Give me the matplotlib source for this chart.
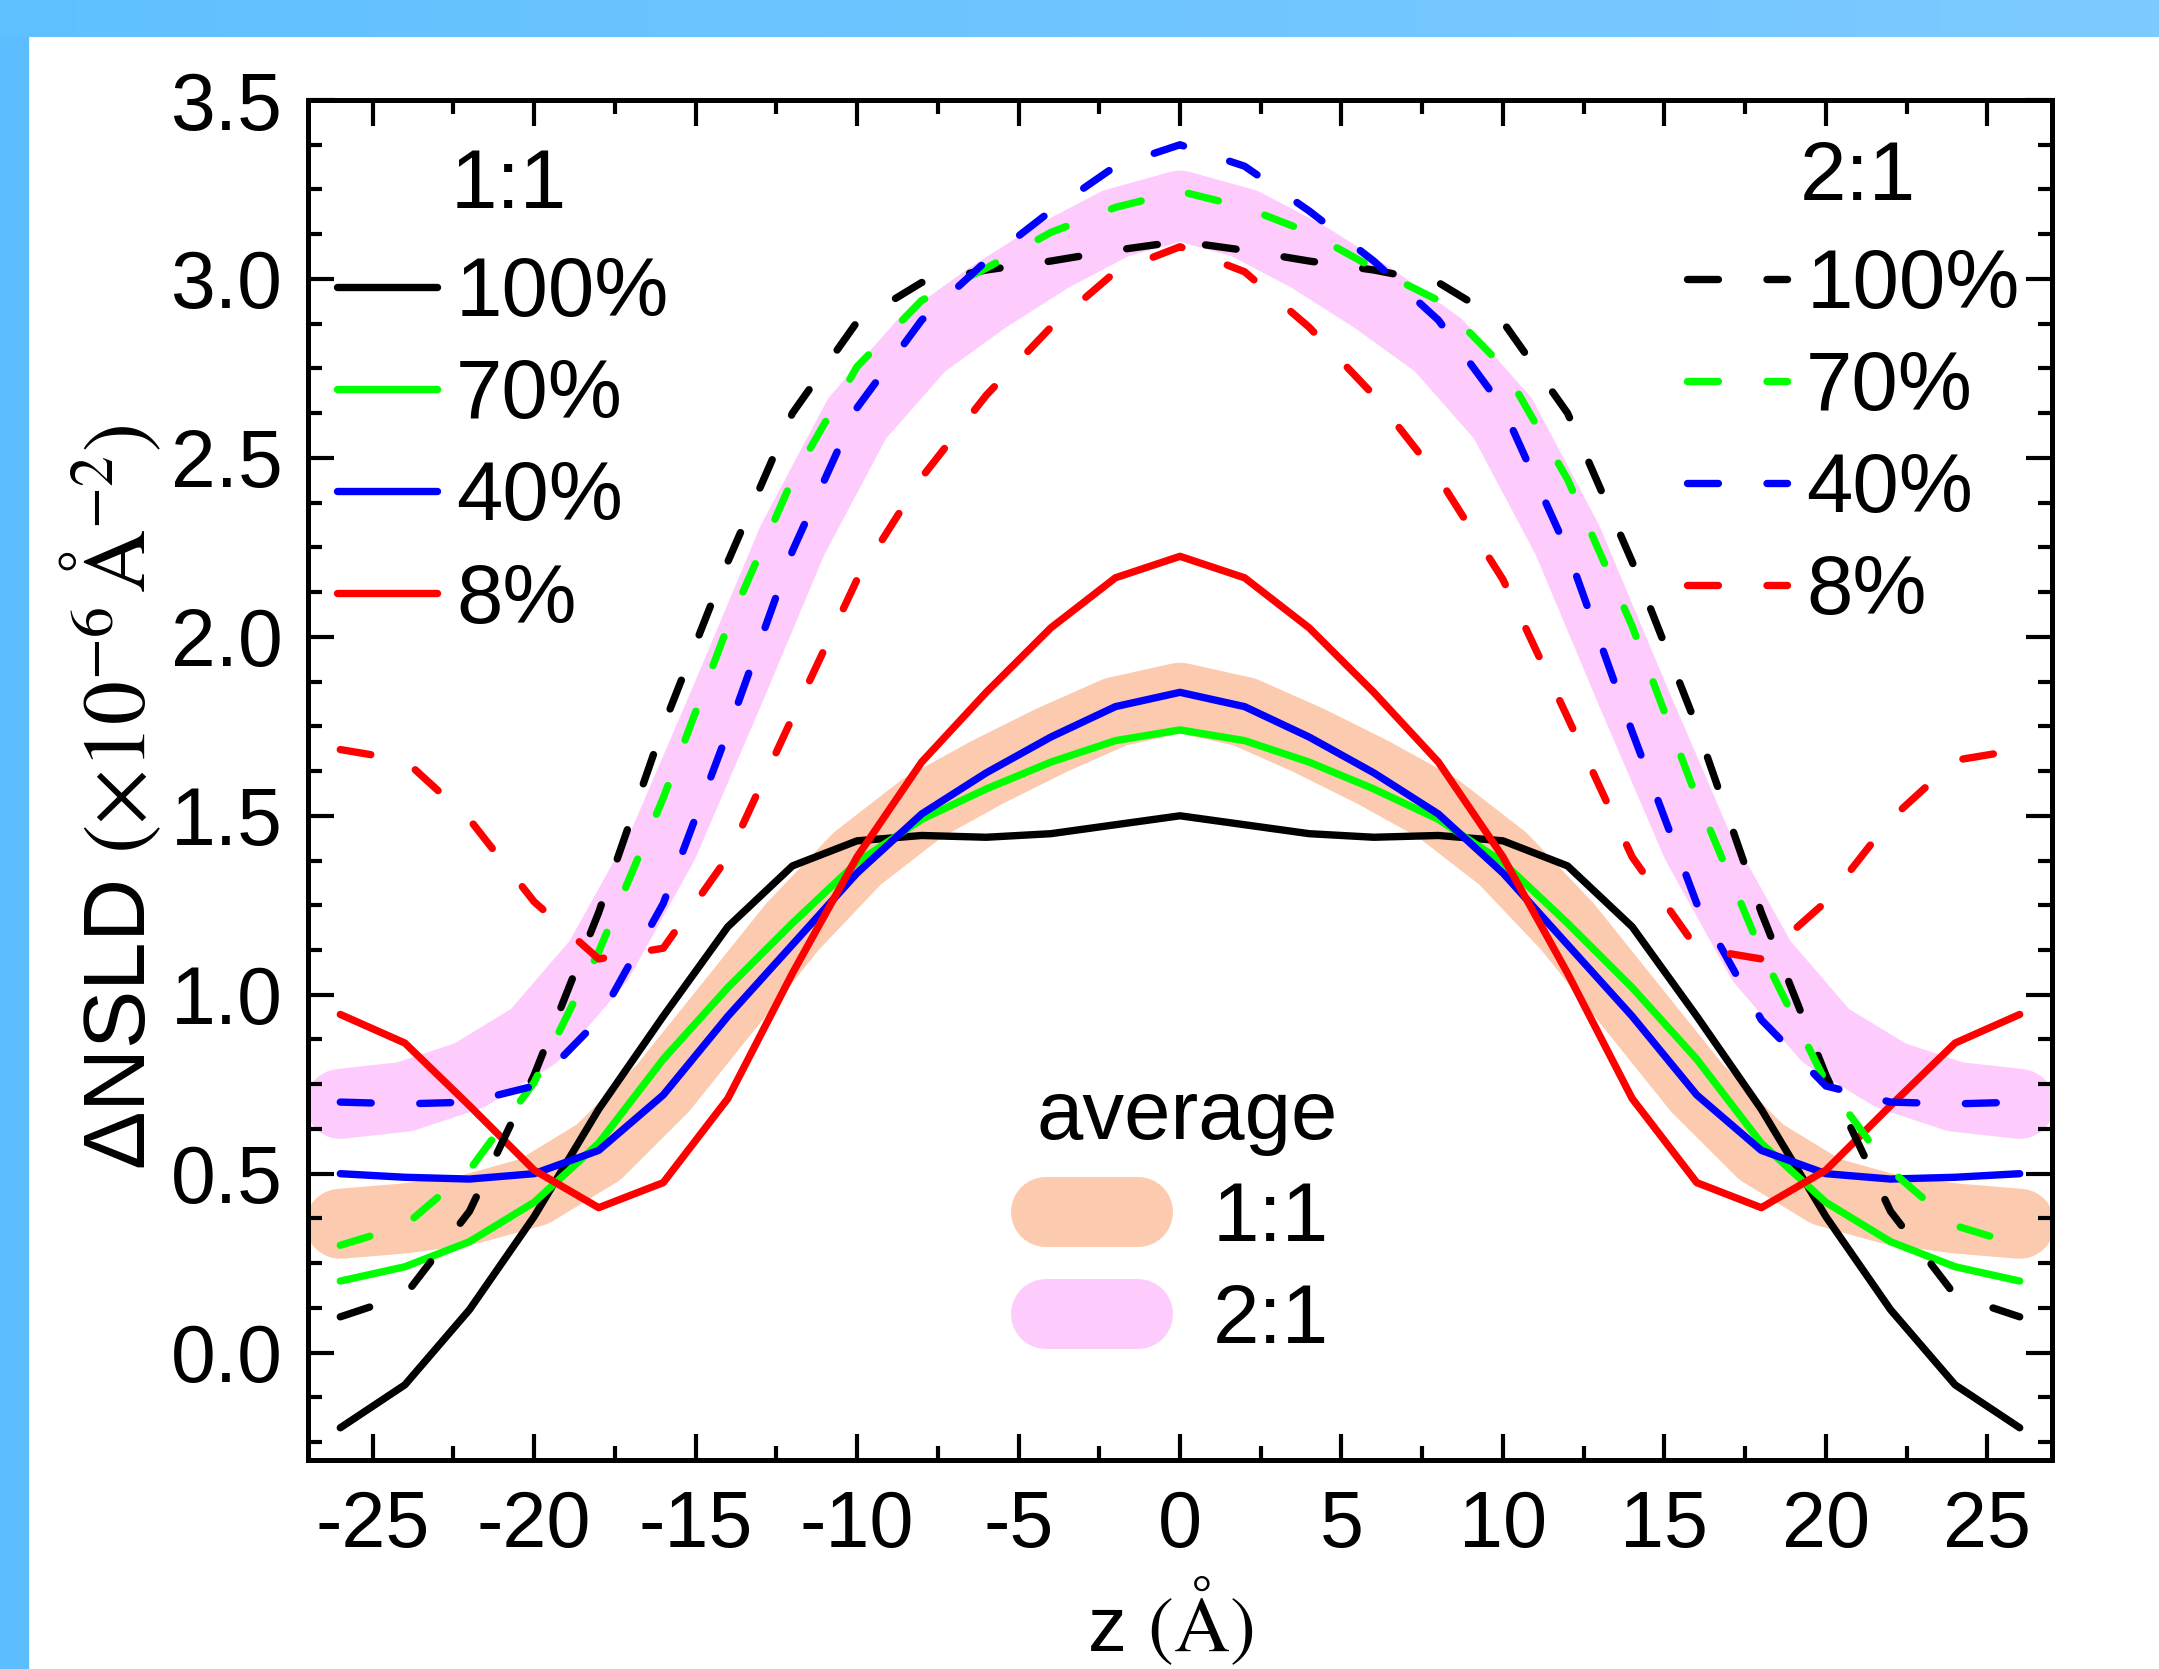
"""
NSLD difference profiles, 1:1 vs 2:1, with averages
"""

import matplotlib.pyplot as plt
import numpy as np
from matplotlib.patches import Rectangle
from matplotlib.colors import LinearSegmentedColormap
from matplotlib.ticker import MultipleLocator, FormatStrFormatter

plt.rcParams['font.family'] = ['Liberation Sans', 'DejaVu Sans']
plt.rcParams['mathtext.fontset'] = 'stix'
plt.rcParams['axes.unicode_minus'] = False

z = [-26, -24, -22, -20, -18, -16, -14, -12, -10, -8, -6, -4, -2, 0,
     2, 4, 6, 8, 10, 12, 14, 16, 18, 20, 22, 24, 26]

# 1:1 (solid)
black_11 = [-0.21, -0.09, 0.12, 0.38, 0.68, 0.94, 1.19, 1.36, 1.43, 1.445, 1.44, 1.45, 1.475, 1.50,
            1.475, 1.45, 1.44, 1.445, 1.43, 1.36, 1.19, 0.94, 0.68, 0.38, 0.12, -0.09, -0.21]
green_11 = [0.20, 0.24, 0.31, 0.42, 0.585, 0.82, 1.02, 1.20, 1.37, 1.49, 1.575, 1.65, 1.71, 1.74,
            1.71, 1.65, 1.575, 1.49, 1.37, 1.20, 1.02, 0.82, 0.585, 0.42, 0.31, 0.24, 0.20]
blue_11 = [0.50, 0.49, 0.485, 0.50, 0.565, 0.72, 0.94, 1.14, 1.34, 1.505, 1.62, 1.72, 1.805, 1.845,
           1.805, 1.72, 1.62, 1.505, 1.34, 1.14, 0.94, 0.72, 0.565, 0.50, 0.485, 0.49, 0.50]
red_11 = [0.945, 0.865, 0.69, 0.51, 0.405, 0.475, 0.71, 1.06, 1.385, 1.65, 1.845, 2.025, 2.165, 2.225,
          2.165, 2.025, 1.845, 1.65, 1.385, 1.06, 0.71, 0.475, 0.405, 0.51, 0.69, 0.865, 0.945]

# 2:1 (dashed)
black_21 = [0.10, 0.16, 0.395, 0.775, 1.23, 1.75, 2.21, 2.625, 2.88, 2.99, 3.025, 3.05, 3.08, 3.105,
            3.08, 3.05, 3.025, 2.99, 2.88, 2.625, 2.21, 1.75, 1.23, 0.775, 0.395, 0.16, 0.10]
green_21 = [0.30, 0.355, 0.51, 0.755, 1.12, 1.55, 2.03, 2.44, 2.755, 2.94, 3.03, 3.13, 3.20, 3.245,
            3.20, 3.13, 3.03, 2.94, 2.755, 2.44, 2.03, 1.55, 1.12, 0.755, 0.51, 0.355, 0.30]
blue_21 = [0.70, 0.695, 0.70, 0.745, 0.93, 1.255, 1.735, 2.24, 2.64, 2.885, 3.05, 3.19, 3.315, 3.375,
           3.315, 3.19, 3.05, 2.885, 2.64, 2.24, 1.735, 1.255, 0.93, 0.745, 0.70, 0.695, 0.70]
red_21 = [1.685, 1.655, 1.49, 1.26, 1.10, 1.13, 1.385, 1.775, 2.16, 2.445, 2.675, 2.865, 3.02, 3.09,
          3.02, 2.865, 2.675, 2.445, 2.16, 1.775, 1.385, 1.13, 1.10, 1.26, 1.49, 1.655, 1.685]

# averages (thick bands)
avg_11 = [0.36, 0.375, 0.40, 0.45, 0.56, 0.74, 0.965, 1.19, 1.38, 1.52, 1.62, 1.71, 1.79, 1.83,
          1.79, 1.71, 1.62, 1.52, 1.38, 1.19, 0.965, 0.74, 0.56, 0.45, 0.40, 0.375, 0.36]
avg_21 = [0.695, 0.715, 0.775, 0.885, 1.095, 1.42, 1.84, 2.27, 2.61, 2.815, 2.945, 3.06, 3.155, 3.205,
          3.155, 3.06, 2.945, 2.815, 2.61, 2.27, 1.84, 1.42, 1.095, 0.885, 0.775, 0.715, 0.695]

labels = ['100%', '70%', '40%', '8%']
colors = ['black', '#00FF00', '#0000FF', '#FF0000']
peach = '#FCCAAE'
pink = '#FDCCFC'

fig = plt.figure(figsize=(21.59, 16.69), dpi=100)
fig.patch.set_facecolor('white')

# light blue frame strips
top = fig.add_axes([0, 1 - 37 / 1669, 1, 37 / 1669])
grad = np.linspace(0, 1, 256).reshape(1, -1)
cm = LinearSegmentedColormap.from_list('bl', ['#60C0FF', '#7DCAFF'])
top.imshow(grad, aspect='auto', cmap=cm, extent=[0, 1, 0, 1])
top.axis('off')
fig.add_artist(Rectangle((0, 0), 28 / 2159, 1, transform=fig.transFigure, color='#5DBEFF', zorder=0))

ax = fig.add_axes([308 / 2159, 209 / 1669, 1744 / 2159, 1360 / 1669])

band_lw = 50.4
b11, = ax.plot(z, avg_11, color=peach, lw=band_lw, solid_capstyle='round', solid_joinstyle='round', zorder=1)
b21, = ax.plot(z, avg_21, color=pink, lw=band_lw, solid_capstyle='round', solid_joinstyle='round', zorder=1)

lw = 5.3
solid = []
for y, c in zip([black_11, green_11, blue_11, red_11], colors):
    l, = ax.plot(z, y, color=c, lw=lw, solid_joinstyle='round', solid_capstyle='round', zorder=3)
    solid.append(l)
dashed = []
for y, c in zip([black_21, green_21, blue_21, red_21], colors):
    l, = ax.plot(z, y, color=c, lw=lw, linestyle=(0, (4.2, 6.6)), dash_capstyle='round', zorder=4)
    dashed.append(l)

ax.set_xlim(-27, 27)
ax.set_ylim(-0.3, 3.5)
ax.xaxis.set_major_locator(MultipleLocator(5))
ax.xaxis.set_minor_locator(MultipleLocator(2.5))
ax.yaxis.set_major_locator(MultipleLocator(0.5))
ax.yaxis.set_minor_locator(MultipleLocator(0.125))
ax.yaxis.set_major_formatter(FormatStrFormatter('%.1f'))
ax.tick_params(which='both', direction='in', top=True, right=True, width=3.0)
ax.tick_params(which='major', length=19)
ax.tick_params(which='minor', length=10)
ax.tick_params(axis='x', which='major', labelsize=57, pad=21)
ax.tick_params(axis='y', which='major', labelsize=58, pad=18)
for s in ax.spines.values():
    s.set_linewidth(3.6)

fs = 60
leg1 = ax.legend(solid, labels, loc='upper left', bbox_to_anchor=(0.0166, 0.886), frameon=False,
                 borderpad=0, borderaxespad=0, handlelength=1.2, handletextpad=0.23,
                 labelspacing=0.29, fontsize=fs)
ax.add_artist(leg1)
leg2 = ax.legend(dashed, labels, loc='upper left', bbox_to_anchor=(0.7907, 0.892), frameon=False,
                 borderpad=0, borderaxespad=0, handlelength=1.2, handletextpad=0.23,
                 labelspacing=0.29, fontsize=fs)
ax.add_artist(leg2)
leg3 = ax.legend([b11, b21], ['1:1', '2:1'], title='average', title_fontsize=fs, loc='upper left',
                 bbox_to_anchor=(0.418, 0.281), frameon=False, borderpad=0, borderaxespad=0,
                 handlelength=1.1, handletextpad=0.9, labelspacing=0.29, fontsize=fs)

ax.text(0.082, 0.937, '1:1', transform=ax.transAxes, fontsize=fs, ha='left', va='center')
ax.text(0.8555, 0.943, '2:1', transform=ax.transAxes, fontsize=fs, ha='left', va='center')

fig.text(0.051, 0.522, 'ΔNSLD $(\\times10^{-6}\\,\\mathrm{Å}^{-2})$', rotation=90,
         ha='center', va='center', fontsize=63)
fig.text(0.542, 18 / 1669, 'z $(\\mathrm{Å})$', ha='center', va='baseline', fontsize=56)

fig.savefig('out.png', dpi=100)
